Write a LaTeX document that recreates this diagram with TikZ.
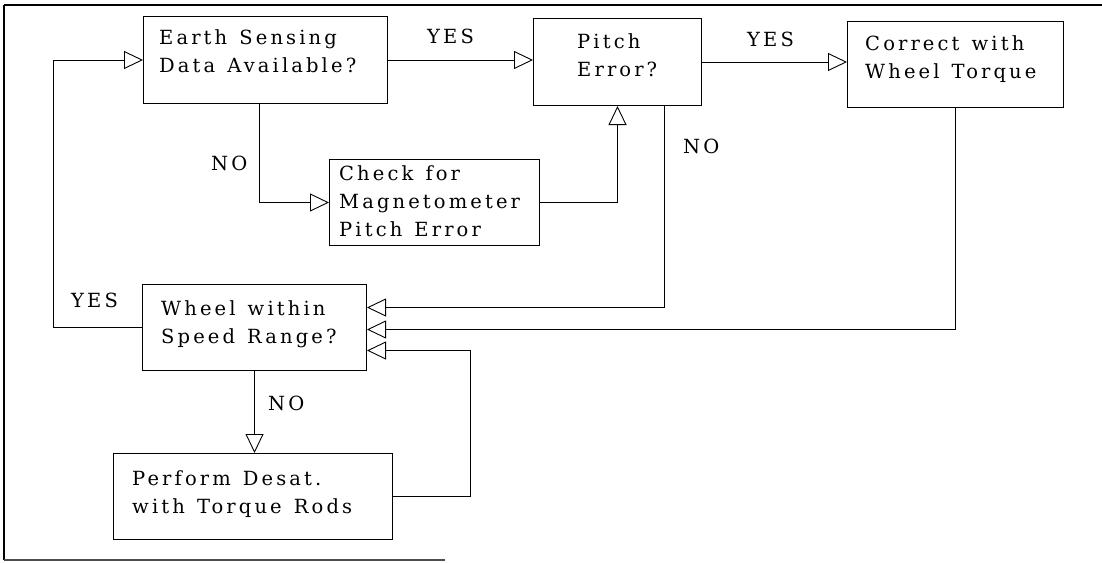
\documentclass[tikz,border=0pt]{standalone}
\usepackage{fontspec}
\setmainfont[LetterSpace=16, WordSpace=1.3]{DejaVu Serif}
\usetikzlibrary{arrows.meta}
\tikzset{
  box/.style={draw, line width=1pt, inner sep=0pt, anchor=north west},
  txt/.style={anchor=base west, inner sep=0pt, font=\fontsize{19.5}{28}\selectfont},
  lbl/.style={anchor=base west, inner sep=0pt, font=\fontsize{19.5}{28}\selectfont},
  arr/.style={line width=0.9pt, -{Triangle[open, length=19pt, width=18pt, line width=0.9pt]}},
  ln/.style={line width=0.9pt}
}
\newcommand{\mylines}[1]{\begin{tabular}[t]{@{}l@{}}#1\end{tabular}}
\begin{document}
\begin{tikzpicture}[x=1pt,y=-1pt]
\useasboundingbox (0,0) rectangle (1102,562);
% frame
\draw[line width=1.6pt] (4,5) -- (1102,5);
\draw[line width=1.4pt] (4,5) -- (4,560);
\draw[line width=1.2pt, black!70] (4,560) -- (445,560);
% boxes
\node[box, minimum width=244pt, minimum height=87pt] (earth) at (143,16) {};
\node[box, minimum width=168pt, minimum height=87pt] (pitch) at (533,18) {};
\node[box, minimum width=216pt, minimum height=86pt] (corr) at (847,21) {};
\node[box, minimum width=210pt, minimum height=86pt] (check) at (329,159) {};
\node[box, minimum width=224pt, minimum height=86pt] (wheel) at (142,284) {};
\node[box, minimum width=279pt, minimum height=86pt] (perf) at (113,453) {};
% texts
\node[txt] (tearth) at (159,44) {\mylines{Earth Sensing\\Data Available?}};
\node[txt] (tpitch) at (577,48) {\mylines{Pitch\\Error?}};
\node[txt] (tcorr) at (865,50) {\mylines{Correct with\\Wheel Torque}};
\node[txt] (tcheck) at (339,180) {\mylines{Check for\\Magnetometer\\Pitch Error}};
\node[txt] (twheel) at (161,315) {\mylines{Wheel within\\Speed Range?}};
\node[txt] (tperf) at (132,485) {\mylines{Perform Desat.\\with Torque Rods}};
% labels
\node[lbl] (y1) at (427,43) {YES};
\node[lbl] (y2) at (747,46) {YES};
\node[lbl] (n1) at (211,170) {NO};
\node[lbl] (n2) at (683,153) {NO};
\node[lbl] (y3) at (71,307) {YES};
\node[lbl] (n3) at (268,410) {NO};
% connectors
\draw[arr] (earth.east) -- (earth.east -| pitch.west);
\draw[arr] (pitch.east) -- (pitch.east -| corr.west);
\draw[arr] ([xshift=-6pt]earth.south) |- (check.west);
\draw[arr] (check.east) -| (pitch.south);
\draw[arr] (wheel.west) -- ++(-89,0) |- (earth.west);
\draw[arr] ([xshift=47pt]pitch.south) |- ([yshift=20pt]wheel.east);
\draw[arr] (corr.south) |- ([yshift=-2pt]wheel.east);
\draw[arr] (perf.east) -- ++(77,0) |- ([yshift=-23pt]wheel.east);
\draw[arr] (wheel.south) -- (wheel.south |- perf.north);
\end{tikzpicture}
\end{document}
